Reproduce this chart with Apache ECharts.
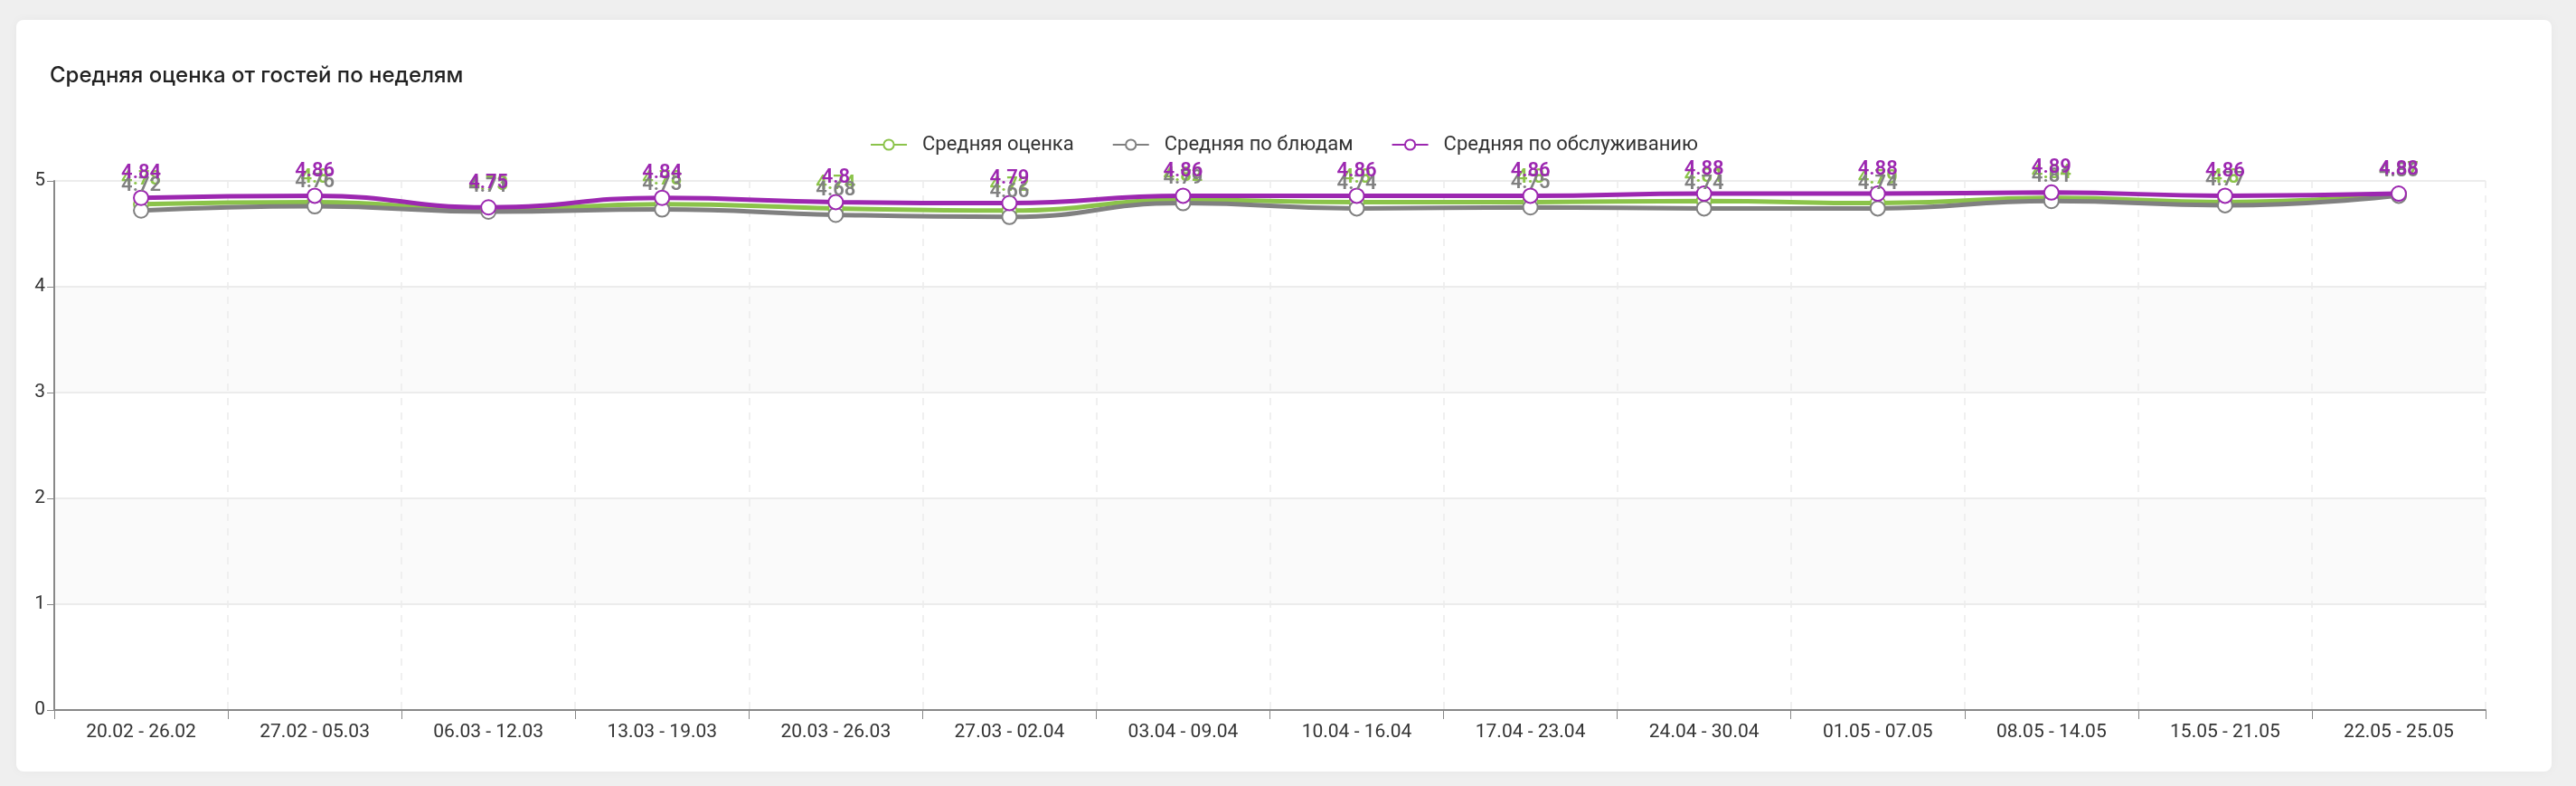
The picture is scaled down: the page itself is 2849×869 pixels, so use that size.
<!DOCTYPE html>
<html>
<head>
<meta charset="utf-8">
<title>Средняя оценка от гостей по неделям</title>
<script src="https://cdn.jsdelivr.net/npm/echarts@6/dist/echarts.min.js"></script>
<style>
    html, body { margin: 0; padding: 0; background: #efefef; }
    body { width: 2849px; height: 869px; position: relative; overflow: hidden; }
    .card {
        position: absolute; left: 18px; top: 22px; width: 2804px; height: 831px;
        background: #fff; border-radius: 8px;
        box-shadow: 0 0 12px rgba(0, 0, 0, 0.04);
    }
    #chart { width: 100%; height: 100%; }
</style>
</head>
<body>
<div class="card"><div id="chart"></div></div>
<script>
var weeks = [
    "20.02 - 26.02", "27.02 - 05.03", "06.03 - 12.03", "13.03 - 19.03",
    "20.03 - 26.03", "27.03 - 02.04", "03.04 - 09.04", "10.04 - 16.04",
    "17.04 - 23.04", "24.04 - 30.04", "01.05 - 07.05", "08.05 - 14.05",
    "15.05 - 21.05", "22.05 - 25.05"
];
var avgTotal =   [4.78, 4.80, 4.73, 4.78, 4.74, 4.72, 4.82, 4.80, 4.80, 4.81, 4.79, 4.84, 4.80, 4.87];
var avgDishes =  [4.72, 4.76, 4.71, 4.73, 4.68, 4.66, 4.79, 4.74, 4.75, 4.74, 4.74, 4.81, 4.77, 4.86];
var avgService = [4.84, 4.86, 4.75, 4.84, 4.8, 4.79, 4.86, 4.86, 4.86, 4.88, 4.88, 4.89, 4.86, 4.88];

var seriesNames = ["Средняя оценка", "Средняя по блюдам", "Средняя по обслуживанию"];
var seriesColors = ["#8bc34a", "#808080", "#9c27b0"];

var make_series = function (name, data, color) {
    return {
        name: name,
        type: "line",
        data: data,
        smooth: true,
        symbol: "emptyCircle",
        symbolSize: 16,
        lineStyle: { width: 5, color: color },
        itemStyle: { color: color, borderColor: color, borderWidth: 4 },
        label: {
            show: true,
            position: "top",
            distance: 7,
            color: color,
            fontSize: 22,
            fontWeight: 600,
            fontFamily: "Roboto"
        }
    };
};

var load = function () {
    var chart = echarts.init(document.getElementById("chart"));
    var option = {
        animation: false,
        title: {
            text: "Средняя оценка от гостей по неделям",
            left: 32,
            top: 45,
            textStyle: { fontFamily: "Inter", fontSize: 24, fontWeight: 500, color: "#222" }
        },
        color: seriesColors,
        legend: {
            top: 122,
            left: "center",
            itemWidth: 40,
            itemHeight: 14,
            itemGap: 42,
            textStyle: { fontFamily: "Roboto", fontSize: 22, color: "#333", padding: [0, 0, 0, 12] },
            data: seriesNames
        },
        grid: { left: 42, right: 73, top: 178, bottom: 68 },
        xAxis: {
            type: "category",
            data: weeks,
            boundaryGap: true,
            axisLine: { lineStyle: { color: "#888", width: 2 } },
            axisTick: { show: true, length: 10, lineStyle: { color: "#888" } },
            axisLabel: { fontFamily: "Roboto", fontSize: 21, color: "#333", margin: 14 },
            splitLine: { show: true, lineStyle: { color: "#ececec", type: [8, 8], width: 1.5 } }
        },
        yAxis: {
            type: "value",
            min: 0,
            max: 5,
            interval: 1,
            axisLine: { show: true, lineStyle: { color: "#888", width: 2 } },
            axisTick: { show: true, length: 8, lineStyle: { color: "#888" } },
            axisLabel: { fontFamily: "Roboto", fontSize: 21, color: "#333", margin: 10 },
            splitLine: { lineStyle: { color: "#ececec", width: 2 } },
            splitArea: { show: true, areaStyle: { color: ["#ffffff", "#fafafa"] } }
        },
        series: [
            make_series(seriesNames[0], avgTotal, seriesColors[0]),
            make_series(seriesNames[1], avgDishes, seriesColors[1]),
            make_series(seriesNames[2], avgService, seriesColors[2])
        ]
    };
    chart.setOption(option);
};

window.addEventListener("load", load, false);
</script>
</body>
</html>
